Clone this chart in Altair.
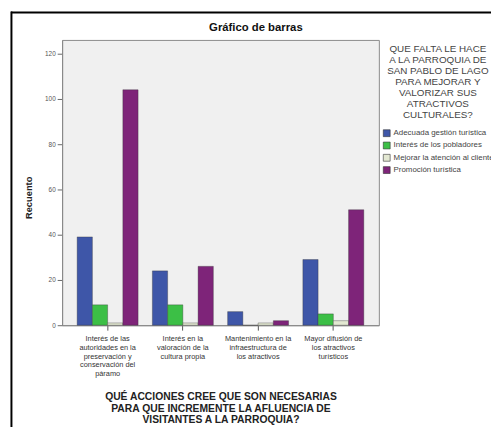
import altair as alt
import pandas as pd

categories = [
    "Interés de las autoridades en la preservación y conservación del páramo",
    "Interés en la valoración de la cultura propia",
    "Mantenimiento en la infraestructura de los atractivos",
    "Mayor difusión de los atractivos turísticos",
]
category_lines = [
    ["Interés de las", "autoridades en la", "preservación y", "conservación del", "páramo"],
    ["Interés en la", "valoración de la", "cultura propia"],
    ["Mantenimiento en la", "infraestructura de", "los atractivos"],
    ["Mayor difusión de", "los atractivos", "turísticos"],
]
series = [
    "Adecuada gestión turística",
    "Interés de los pobladores",
    "Mejorar la atención al cliente",
    "Promoción turística",
]
adecuada = [39, 24, 6, 29]
interes = [9, 9, 0, 5]
mejorar = [1, 1, 1, 2]
promocion = [104, 26, 2, 51]
colors = ["#3E56A8", "#3CBF46", "#E3E8D2", "#7E2479"]
y_ticks = [0, 20, 40, 60, 80, 100, 120]

chart_title = "Gráfico de barras"
x_title = [
    "QUÉ ACCIONES CREE QUE SON NECESARIAS",
    "PARA QUE INCREMENTE LA AFLUENCIA DE",
    "VISITANTES A LA PARROQUIA?",
]
y_title = "Recuento"
legend_title = [
    "QUE FALTA LE HACE",
    "A LA PARROQUIA DE",
    "SAN PABLO DE LAGO",
    "PARA MEJORAR Y",
    "VALORIZAR SUS",
    "ATRACTIVOS",
    "CULTURALES?",
]

rows = []
for s, vals in zip(series, [adecuada, interes, mejorar, promocion]):
    for c, v in zip(categories, vals):
        rows.append({"accion": c, "falta": s, "recuento": v})
df = pd.DataFrame(rows)


def js_list(lines):
    return "[" + ",".join("'" + l + "'" for l in lines) + "]"


label_expr = "datum.label"
for c, lines in reversed(list(zip(categories, category_lines))):
    label_expr = f"datum.label == '{c}' ? {js_list(lines)} : ({label_expr})"

bars = alt.Chart(df).mark_bar(
    stroke="#333333", strokeWidth=0.6, strokeOpacity=0.6
).encode(
    x=alt.X(
        "accion:N",
        sort=categories,
        scale=alt.Scale(paddingInner=0.19, paddingOuter=0.2),
        axis=alt.Axis(
            title=x_title,
            labelExpr=label_expr,
            labelAngle=0,
            labelFontSize=7.5,
            labelLineHeight=8.7,
            labelColor="#333333",
            labelPadding=5,
            labelBaseline="top",
            tickSize=5,
            tickColor="#555555",
            domainColor="#888888",
            titleFontSize=10.5,
            titleFontWeight="bold",
            titleLineHeight=11.5,
            titleY=68,
            titleBaseline="top",
            titleColor="#222222",
        ),
    ),
    xOffset=alt.XOffset("falta:N", sort=series, scale=alt.Scale(paddingInner=0, paddingOuter=0)),
    y=alt.Y(
        "recuento:Q",
        scale=alt.Scale(domain=[0, 126], nice=False),
        axis=alt.Axis(
            values=y_ticks,
            grid=False,
            title=y_title,
            labelFontSize=6.5,
            labelColor="#555555",
            tickSize=5,
            tickColor="#666666",
            domainColor="#888888",
            titleFontSize=9.5,
            titleFontWeight="bold",
            titleColor="#222222",
            titleAngle=270,
            titleX=-34,
            titleY=160,
            titleBaseline="middle",
        ),
    ),
    color=alt.Color(
        "falta:N",
        sort=series,
        scale=alt.Scale(domain=series, range=colors),
        legend=alt.Legend(
            title=legend_title,
            orient="none",
            legendX=326,
            legendY=4,
            titleFontSize=10,
            titleFontWeight="normal",
            titleColor="#444444",
            titleLineHeight=11.3,
            titleAlign="center",
            titleAnchor="middle",
            titlePadding=9,
            symbolType="square",
            symbolSize=49,
            symbolStrokeColor="#333333",
            symbolStrokeWidth=0.6,
            labelFontSize=8,
            labelColor="#444444",
            labelLimit=110,
            labelOffset=3,
            rowPadding=2.5,
        ),
    ),
)

frame = pd.DataFrame({"k": [0]})
top_border = alt.Chart(frame).mark_rule(color="#000000", strokeWidth=2).encode(
    x=alt.value(-52), x2=alt.value(436), y=alt.value(-28)
)
left_border = alt.Chart(frame).mark_rule(color="#000000", strokeWidth=2).encode(
    x=alt.value(-51.5), y=alt.value(-29), y2=alt.value(402)
)

chart = alt.layer(bars, top_border, left_border).properties(
    width=322,
    height=290,
    autosize=alt.AutoSizeParams(type="none"),
    padding={"left": 55, "top": 29, "right": 114, "bottom": 100},
    title=alt.TitleParams(
        chart_title,
        fontSize=11.5,
        fontWeight="bold",
        anchor="middle",
        frame="group",
        dx=36,
        dy=29,
        offset=6,
        color="#111111",
    ),
).configure(
    font="Liberation Sans"
).configure_view(
    fill="#F0F0F0", stroke="#8A8A8A", strokeWidth=1
)

chart.save("out.html", embed_options={"renderer": "svg", "actions": False})
